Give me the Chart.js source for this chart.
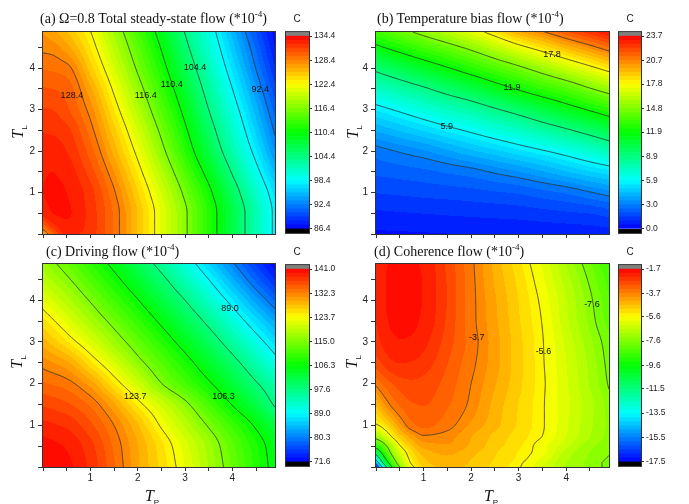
<!DOCTYPE html>
<html>
<head>
<meta charset="utf-8">
<title>Flow contour maps</title>
<script src="https://cdn.jsdelivr.net/npm/chart.js@4.4.1/dist/chart.umd.min.js"></script>
<style>
  body { margin: 0; background: #fff; }
  #page { position: relative; width: 689px; height: 504px; overflow: hidden; }
  canvas { position: absolute; }
  .title { position: absolute; font-family: "Liberation Serif", "Times New Roman", serif; font-size: 14px; line-height: 14px; white-space: nowrap; color: #111; }
  .title sup { font-size: 9px; line-height: 0; }
  .cbt { position: absolute; width: 20px; text-align: center; font-family: "Liberation Sans", Arial, sans-serif; font-size: 10px; line-height: 12px; color: #222; }
  .axt { position: absolute; width: 30px; height: 20px; text-align: center; font-family: "Liberation Serif", "Times New Roman", serif; font-size: 16px; line-height: 20px; color: #111; white-space: nowrap; }
  .axt sub { font-family: "Liberation Sans", Arial, sans-serif; font-size: 8px; font-style: normal; line-height: 0; }
  .rot { transform: rotate(-90deg); }
</style>
</head>
<body>
<div id="page">
  <canvas id="pa" width="280" height="250" style="left:0;top:0"></canvas>
  <canvas id="ca" width="65" height="215" style="left:280px;top:25px"></canvas>
  <canvas id="pb" width="281" height="250" style="left:333px;top:0"></canvas>
  <canvas id="cb" width="77" height="215" style="left:612px;top:25px"></canvas>
  <canvas id="pc" width="280" height="254" style="left:0;top:250px"></canvas>
  <canvas id="cc" width="65" height="215" style="left:280px;top:258px"></canvas>
  <canvas id="pd" width="281" height="254" style="left:333px;top:250px"></canvas>
  <canvas id="cd" width="77" height="215" style="left:612px;top:258px"></canvas>

  <div class="title" style="left:40px;top:12px">(a) &Omega;=0.8 Total steady-state flow (*10<sup>-4</sup>)</div>
  <div class="title" style="left:377px;top:12px">(b) Temperature bias flow (*10<sup>-4</sup>)</div>
  <div class="title" style="left:46px;top:245px">(c) Driving flow (*10<sup>-4</sup>)</div>
  <div class="title" style="left:374px;top:245px">(d) Coherence flow (*10<sup>-4</sup>)</div>

  <div class="cbt" style="left:287px;top:13px">C</div>
  <div class="cbt" style="left:620px;top:13px">C</div>
  <div class="cbt" style="left:287px;top:246px">C</div>
  <div class="cbt" style="left:620px;top:246px">C</div>

  <div class="axt rot" style="left:3px;top:122px"><i>T</i><sub>L</sub></div>
  <div class="axt rot" style="left:338px;top:122px"><i>T</i><sub>L</sub></div>
  <div class="axt rot" style="left:2px;top:352px"><i>T</i><sub>L</sub></div>
  <div class="axt rot" style="left:337px;top:352px"><i>T</i><sub>L</sub></div>
  <div class="axt" style="left:137px;top:486px"><i>T</i><sub>P</sub></div>
  <div class="axt" style="left:476px;top:486px"><i>T</i><sub>P</sub></div>
</div>

<script>
// grid nodes (same list used for T_P columns and T_L rows)
const gridA = [0, 0.2, 0.5, 1, 1.5, 2, 2.5, 3, 3.5, 4, 4.5, 4.9];
const gridBC = [0, 0.5, 1, 1.5, 2, 2.5, 3, 3.5, 4, 4.5, 4.9];
const gridD = [0, 0.1, 0.2, 0.35, 0.5, 0.75, 1, 1.5, 2, 2.5, 3, 3.5, 4, 4.5, 4.9];

// (a) total steady-state flow, rows = T_L, columns = T_P
const totalFlow = [
  [126.5, 129.8, 132.8, 131.8, 129.2, 125.3, 121.2, 116.8, 112.1, 107.1, 102.0, 97.8],
  [129.8, 132.0, 133.2, 132.0, 129.2, 125.3, 121.2, 116.8, 112.1, 107.1, 102.0, 97.8],
  [132.8, 133.4, 133.5, 132.0, 129.2, 125.3, 121.2, 116.8, 112.1, 107.1, 102.0, 97.8],
  [133.4, 133.6, 133.4, 131.8, 128.6, 124.5, 120.3, 115.8, 111.1, 106.0, 100.9, 97.0],
  [133.3, 133.4, 133.0, 130.9, 127.4, 123.2, 118.8, 114.1, 109.2, 104.1, 99.2, 95.2],
  [133.0, 133.0, 132.4, 129.9, 126.0, 121.8, 117.2, 112.3, 107.2, 102.3, 97.5, 93.3],
  [132.3, 132.2, 131.7, 128.9, 124.8, 120.4, 115.8, 110.9, 105.8, 101.0, 96.1, 92.1],
  [131.5, 131.4, 130.6, 127.9, 123.4, 118.9, 114.3, 109.5, 104.4, 99.7, 94.9, 90.9],
  [130.5, 130.4, 130.0, 126.6, 122.0, 117.5, 112.9, 108.1, 103.1, 98.4, 93.6, 89.7],
  [129.3, 129.2, 128.8, 124.9, 120.5, 116.0, 111.5, 106.6, 101.8, 97.1, 92.3, 88.5],
  [128.1, 127.9, 126.8, 123.4, 119.1, 114.7, 110.2, 105.2, 100.6, 95.9, 91.2, 87.4],
  [127.3, 126.6, 125.3, 122.4, 118.0, 113.7, 109.1, 104.2, 99.7, 95.0, 90.2, 86.8]
];

// (b) temperature bias flow
const biasFlow = [
  [0.40, 0.42, 0.45, 0.48, 0.50, 0.52, 0.55, 0.58, 0.60, 0.65, 0.70],
  [0.90, 0.95, 1.00, 1.05, 1.10, 1.15, 1.20, 1.30, 1.40, 1.50, 1.70],
  [1.50, 1.57, 1.65, 1.72, 1.80, 1.92, 2.05, 2.30, 2.55, 2.95, 3.30],
  [2.10, 2.22, 2.35, 2.55, 2.75, 3.10, 3.45, 3.90, 4.40, 4.90, 5.25],
  [2.75, 3.07, 3.40, 3.85, 4.35, 4.80, 5.30, 5.80, 6.37, 7.05, 7.65],
  [4.02, 4.50, 5.00, 5.55, 6.10, 6.70, 7.30, 8.00, 8.70, 9.50, 10.2],
  [5.50, 6.10, 6.75, 7.40, 8.00, 8.75, 9.50, 10.35, 11.2, 12.05, 12.75],
  [7.30, 8.00, 8.70, 9.50, 10.25, 11.15, 12.05, 12.9, 13.7, 14.7, 15.45],
  [9.27, 10.1, 10.95, 11.8, 12.7, 13.6, 14.5, 15.5, 16.5, 17.5, 18.3],
  [11.6, 12.5, 13.4, 14.25, 15.15, 16.25, 17.4, 18.4, 19.45, 20.4, 21.2],
  [13.4, 14.4, 15.4, 16.3, 17.3, 18.55, 19.9, 20.8, 21.8, 22.7, 23.4]
];

// (c) driving flow
const drivingFlow = [
  [140.8, 140.0, 137.8, 134.0, 129.7, 126.1, 122.2, 117.8, 113.3, 108.7, 105.0],
  [140.2, 139.4, 137.2, 133.5, 129.5, 125.6, 121.4, 117.2, 112.5, 108.1, 104.5],
  [138.6, 137.8, 135.6, 132.3, 128.2, 123.3, 119.0, 114.6, 110.2, 105.7, 102.0],
  [136.5, 135.5, 133.5, 129.7, 124.7, 120.4, 115.9, 111.0, 106.1, 101.5, 97.1],
  [134.0, 133.0, 130.2, 125.2, 120.3, 115.1, 111.0, 106.9, 102.5, 98.0, 94.6],
  [131.6, 129.8, 125.5, 121.0, 116.2, 112.0, 107.9, 103.5, 99.1, 94.4, 90.5],
  [128.8, 125.3, 121.4, 117.1, 112.9, 108.8, 104.5, 100.1, 95.4, 90.6, 86.8],
  [125.6, 121.8, 117.8, 113.8, 109.7, 105.5, 101.1, 96.5, 91.6, 86.7, 83.0],
  [122.2, 118.6, 114.7, 110.6, 106.5, 102.0, 97.6, 92.7, 87.7, 82.5, 78.5],
  [118.9, 115.6, 111.6, 107.5, 103.1, 98.7, 93.9, 89.0, 83.6, 78.3, 74.5],
  [116.9, 113.3, 109.2, 105.0, 100.5, 95.9, 91.1, 85.9, 80.5, 75.5, 71.9]
];

// (d) coherence flow
const coherenceFlow = [
  [-17.2, -14.2, -11.9, -9.35, -7.6, -5.8, -5.0, -4.55, -4.75, -5.1, -5.55, -6.3, -7.0, -7.35, -7.75],
  [-15.0, -12.4, -10.6, -8.5, -7.0, -5.5, -4.8, -4.45, -4.7, -5.05, -5.5, -6.2, -6.95, -7.42, -7.7],
  [-13.0, -11.2, -9.6, -7.9, -6.7, -5.35, -4.7, -4.4, -4.65, -5.0, -5.4, -6.05, -6.9, -7.35, -7.65],
  [-10.8, -9.7, -8.6, -7.2, -6.3, -5.1, -4.5, -4.25, -4.55, -4.95, -5.35, -5.85, -6.75, -7.3, -7.55],
  [-9.1, -8.55, -7.8, -6.7, -5.7, -4.75, -4.2, -4.05, -4.4, -4.85, -5.25, -5.85, -6.55, -7.2, -7.5],
  [-7.1, -6.7, -6.2, -5.4, -4.8, -4.1, -3.72, -3.85, -4.3, -4.75, -5.15, -5.6, -6.3, -6.95, -7.42],
  [-5.7, -5.5, -5.15, -4.65, -4.1, -3.45, -3.25, -3.55, -4.07, -4.55, -5.05, -5.55, -6.25, -6.9, -7.38],
  [-4.6, -4.25, -3.95, -3.55, -3.3, -3.05, -3.0, -3.3, -3.8, -4.45, -5.0, -5.55, -6.2, -6.85, -7.45],
  [-3.6, -3.4, -3.2, -3.0, -2.85, -2.75, -2.8, -3.15, -3.7, -4.3, -4.9, -5.52, -6.25, -7.0, -7.65],
  [-2.85, -2.7, -2.55, -2.4, -2.35, -2.38, -2.5, -3.0, -3.58, -4.2, -4.87, -5.55, -6.3, -7.07, -7.75],
  [-2.5, -2.35, -2.22, -2.1, -2.05, -2.08, -2.25, -2.85, -3.5, -4.19, -4.88, -5.57, -6.38, -7.2, -7.85],
  [-2.35, -2.2, -2.08, -1.97, -1.93, -1.96, -2.1, -2.75, -3.55, -4.25, -4.95, -5.63, -6.55, -7.4, -8.1],
  [-2.3, -2.15, -2.03, -1.92, -1.88, -1.92, -2.05, -2.7, -3.55, -4.29, -5.0, -5.73, -6.62, -7.5, -8.25],
  [-2.3, -2.15, -2.03, -1.92, -1.88, -1.92, -2.05, -2.72, -3.57, -4.38, -5.1, -5.9, -6.8, -7.7, -8.45],
  [-2.35, -2.2, -2.08, -1.97, -1.93, -1.96, -2.1, -2.78, -3.6, -4.45, -5.22, -6.05, -6.99, -7.92, -8.7]
];

// colour-scale ticks = contour line levels
const ticksA = [86.4, 92.4, 98.4, 104.4, 110.4, 116.4, 122.4, 128.4, 134.4];
const ticksB = [0.0, 3.0, 5.9, 8.9, 11.9, 14.8, 17.8, 20.7, 23.7];
const ticksC = [71.6, 80.3, 89.0, 97.6, 106.3, 115.0, 123.7, 132.3, 141.0];
const ticksD = [-17.5, -15.5, -13.5, -11.5, -9.6, -7.6, -5.6, -3.7, -1.7];

// contour labels: [T_P, T_L, text]
const labelsA = [[0.61, 3.33, '128.4'], [2.17, 3.33, '116.4'], [2.72, 3.6, '110.4'], [3.21, 4.02, '104.4'], [4.59, 3.49, '92.4']];
const labelsB = [[3.70, 4.32, '17.8'], [2.86, 3.52, '11.9'], [1.49, 2.60, '5.9']];
const labelsC = [[1.95, 1.69, '123.7'], [3.81, 1.69, '106.3'], [3.95, 3.80, '89.0']];
const labelsD = [[2.12, 3.10, '-3.7'], [3.52, 2.78, '-5.6'], [4.54, 3.90, '-7.6']];

const BANDS = 48;
Chart.defaults.font.family = '"Liberation Sans", Arial, sans-serif';

function rainbow(t) {
  const stops = [[0, 0, 0, 255], [0.25, 0, 255, 255], [0.5, 0, 255, 0], [0.75, 255, 255, 0], [1, 255, 0, 0]];
  t = Math.max(0, Math.min(1, t));
  for (let i = 1; i < stops.length; i++) {
    if (t <= stops[i][0]) {
      const a = stops[i - 1], b = stops[i], f = (t - a[0]) / (b[0] - a[0]);
      return [1, 2, 3].map(c => Math.round(a[c] + (b[c] - a[c]) * f));
    }
  }
  return [255, 0, 0];
}
const bandRgb = [];
for (let k = 0; k < BANDS; k++) bandRgb.push(rainbow((k + 0.5) / BANDS));

// monotone cubic (pchip) through the nodes, only used for smooth drawing
function pchip(xs, ys) {
  const n = xs.length, h = [], d = [], m = [];
  for (let i = 0; i < n - 1; i++) { h[i] = xs[i + 1] - xs[i]; d[i] = (ys[i + 1] - ys[i]) / h[i]; }
  m[0] = d[0]; m[n - 1] = d[n - 2];
  for (let i = 1; i < n - 1; i++) {
    if (d[i - 1] * d[i] <= 0) m[i] = 0;
    else {
      const w1 = 2 * h[i] + h[i - 1], w2 = h[i] + 2 * h[i - 1];
      m[i] = (w1 + w2) / (w1 / d[i - 1] + w2 / d[i]);
    }
  }
  return x => {
    let k = 0;
    while (k < n - 2 && x > xs[k + 1]) k++;
    const t = Math.max(0, Math.min(1, (x - xs[k]) / h[k])), t2 = t * t, t3 = t2 * t;
    return (2 * t3 - 3 * t2 + 1) * ys[k] + (t3 - 2 * t2 + t) * h[k] * m[k] +
      (-2 * t3 + 3 * t2) * ys[k + 1] + (t3 - t2) * h[k] * m[k + 1];
  };
}

function resample(grid, z, x0, x1, y0, y1, N) {
  const xs = [], ys = [];
  for (let i = 0; i < N; i++) { xs.push(x0 + (x1 - x0) * i / (N - 1)); ys.push(y0 + (y1 - y0) * i / (N - 1)); }
  const rows = z.map(r => xs.map(pchip(grid, r)));
  const F = ys.map(() => new Float64Array(N));
  for (let i = 0; i < N; i++) {
    const f = pchip(grid, rows.map(r => r[i]));
    ys.forEach((yv, j) => { F[j][i] = f(yv); });
  }
  return { xs, ys, F };
}

function contourSegments(F, xs, ys, L) {
  const out = [];
  for (let j = 0; j < ys.length - 1; j++) {
    for (let i = 0; i < xs.length - 1; i++) {
      const a = F[j][i], b = F[j][i + 1], c = F[j + 1][i + 1], d = F[j + 1][i];
      const dx = xs[i + 1] - xs[i], dy = ys[j + 1] - ys[j], pts = [];
      if ((a < L) !== (b < L)) pts.push([xs[i] + (L - a) / (b - a) * dx, ys[j]]);
      if ((b < L) !== (c < L)) pts.push([xs[i + 1], ys[j] + (L - b) / (c - b) * dy]);
      if ((d < L) !== (c < L)) pts.push([xs[i] + (L - d) / (c - d) * dx, ys[j + 1]]);
      if ((a < L) !== (d < L)) pts.push([xs[i], ys[j] + (L - a) / (d - a) * dy]);
      if (pts.length === 2) out.push(pts);
      else if (pts.length === 4) { out.push([pts[0], pts[1]]); out.push([pts[2], pts[3]]); }
    }
  }
  return out;
}

function makeContour(p) {
  let cache = null;
  return {
    id: 'contour',
    beforeDatasetsDraw(chart) {
      const { ctx, chartArea: a, scales: { x, y } } = chart;
      const N = 220;
      if (!cache) cache = resample(p.grid, p.z, x.min, x.max, y.min, y.max, N);
      const { xs, ys, F } = cache;
      const lo = p.ticks[0], hi = p.ticks[p.ticks.length - 1], step = (hi - lo) / BANDS;
      const at = (tp, tl) => {
        let fx = (tp - x.min) / (x.max - x.min) * (N - 1), fy = (tl - y.min) / (y.max - y.min) * (N - 1);
        fx = Math.max(0, Math.min(N - 1.0001, fx)); fy = Math.max(0, Math.min(N - 1.0001, fy));
        const i = Math.floor(fx), j = Math.floor(fy), u = fx - i, w = fy - j;
        return (F[j][i] * (1 - u) + F[j][i + 1] * u) * (1 - w) + (F[j + 1][i] * (1 - u) + F[j + 1][i + 1] * u) * w;
      };
      const W = Math.round(a.right - a.left), H = Math.round(a.bottom - a.top);
      const img = ctx.createImageData(W, H);
      for (let py = 0; py < H; py++) {
        const tl = y.getValueForPixel(a.top + py + 0.5);
        for (let px = 0; px < W; px++) {
          const v = at(x.getValueForPixel(a.left + px + 0.5), tl);
          let c;
          if (v < lo) c = [0, 0, 0];
          else if (v > hi) c = [128, 128, 128];
          else c = bandRgb[Math.min(BANDS - 1, Math.floor((v - lo) / step))];
          const o = (py * W + px) * 4;
          img.data[o] = c[0]; img.data[o + 1] = c[1]; img.data[o + 2] = c[2]; img.data[o + 3] = 255;
        }
      }
      ctx.putImageData(img, Math.round(a.left), Math.round(a.top));

      ctx.save();
      ctx.beginPath();
      ctx.rect(a.left, a.top, a.right - a.left, a.bottom - a.top);
      ctx.clip();
      ctx.strokeStyle = 'rgba(45,45,45,0.9)';
      ctx.lineWidth = 0.9;
      ctx.beginPath();
      p.ticks.forEach(L => contourSegments(F, xs, ys, L).forEach(([s, e]) => {
        ctx.moveTo(x.getPixelForValue(s[0]), y.getPixelForValue(s[1]));
        ctx.lineTo(x.getPixelForValue(e[0]), y.getPixelForValue(e[1]));
      }));
      ctx.stroke();
      ctx.fillStyle = '#111';
      ctx.font = '9px "Liberation Sans", Arial, sans-serif';
      ctx.textAlign = 'center';
      ctx.textBaseline = 'middle';
      p.labels.forEach(([tp, tl, txt]) => ctx.fillText(txt, x.getPixelForValue(tp), y.getPixelForValue(tl)));
      ctx.restore();
    }
  };
}

const framePlugin = {
  id: 'frame',
  afterDraw(chart) {
    const { ctx, chartArea: a } = chart;
    ctx.save();
    ctx.strokeStyle = '#333';
    ctx.lineWidth = 1;
    ctx.strokeRect(a.left - 0.5, a.top - 0.5, a.right - a.left + 1, a.bottom - a.top + 1);
    ctx.restore();
  }
};

const tickLabel = v => (Number.isInteger(v) && v > 0) ? String(v) : '';

function drawPanel(id, p, g) {
  const nodes = [];
  p.grid.forEach((tl, j) => p.grid.forEach((tp, i) => nodes.push({ x: tp, y: tl, v: p.z[j][i] })));
  return new Chart(document.getElementById(id), {
    type: 'scatter',
    data: { datasets: [{ data: nodes, pointRadius: 0, pointHoverRadius: 0 }] },
    options: {
      responsive: false, animation: false, devicePixelRatio: 1, events: [],
      layout: { padding: { top: g.top, right: 5, left: 0, bottom: 0 } },
      plugins: { legend: { display: false }, tooltip: { enabled: false } },
      scales: {
        x: {
          type: 'linear', min: 0, max: 4.9,
          afterFit: s => { s.height = g.xh; },
          ticks: { stepSize: 0.5, includeBounds: false, autoSkip: false, maxRotation: 0, display: p.showX,
                   padding: 1, color: '#222', font: { size: 10 }, callback: tickLabel },
          grid: { drawOnChartArea: false, tickLength: 4, color: '#333' },
          border: { display: false }
        },
        y: {
          type: 'linear', min: 0, max: 4.87,
          afterFit: s => { s.width = 43; },
          ticks: { stepSize: 0.5, includeBounds: false, autoSkip: false, padding: 3,
                   color: '#222', font: { size: 10 }, callback: tickLabel },
          grid: { drawOnChartArea: false, tickLength: 5, color: '#333' },
          border: { display: false }
        }
      }
    },
    plugins: [makeContour(p), framePlugin]
  });
}

function drawColorbar(id, ticks, axisWidth, padLeft) {
  const lo = ticks[0], hi = ticks[ticks.length - 1], step = (hi - lo) / BANDS;
  const bar = (range, color) => ({ data: [range], backgroundColor: color, borderWidth: 0,
    grouped: false, barPercentage: 1, categoryPercentage: 1 });
  const datasets = [bar([lo - step, lo], '#000')];
  bandRgb.forEach((c, k) => datasets.push(bar([lo + k * step, lo + (k + 1) * step], `rgb(${c[0]},${c[1]},${c[2]})`)));
  datasets.push(bar([hi, hi + step], '#808080'));
  return new Chart(document.getElementById(id), {
    type: 'bar',
    data: { labels: ['C'], datasets },
    options: {
      responsive: false, animation: false, devicePixelRatio: 1, events: [],
      layout: { padding: { top: 6, bottom: 6, left: padLeft, right: 0 } },
      plugins: { legend: { display: false }, tooltip: { enabled: false } },
      scales: {
        x: { display: false },
        y: {
          position: 'right', min: lo - step, max: hi + step,
          afterFit: s => { s.width = axisWidth; },
          afterBuildTicks: s => { s.ticks = ticks.map(v => ({ value: v })); },
          ticks: { padding: 2, color: '#222', font: { size: 8.5 }, callback: v => v.toFixed(1) },
          grid: { drawOnChartArea: false, tickLength: 3, color: '#333' },
          border: { display: false }
        }
      }
    },
    plugins: [framePlugin]
  });
}

drawPanel('pa', { grid: gridA, z: totalFlow, ticks: ticksA, labels: labelsA, showX: false }, { top: 32, xh: 16 });
drawPanel('pb', { grid: gridBC, z: biasFlow, ticks: ticksB, labels: labelsB, showX: false }, { top: 32, xh: 16 });
drawPanel('pc', { grid: gridBC, z: drivingFlow, ticks: ticksC, labels: labelsC, showX: true }, { top: 14, xh: 37 });
drawPanel('pd', { grid: gridD, z: coherenceFlow, ticks: ticksD, labels: labelsD, showX: true }, { top: 14, xh: 37 });

drawColorbar('ca', ticksA, 36, 6);
drawColorbar('cb', ticksB, 48, 7);
drawColorbar('cc', ticksC, 36, 6);
drawColorbar('cd', ticksD, 48, 7);
</script>
</body>
</html>
